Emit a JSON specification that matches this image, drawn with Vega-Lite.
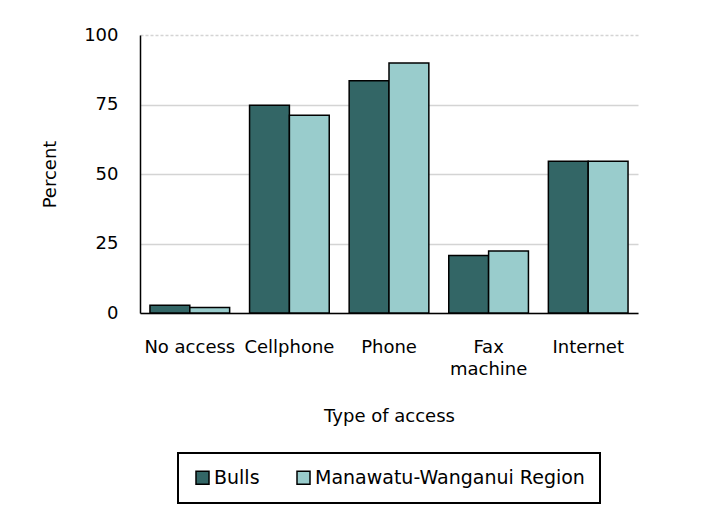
{
  "$schema": "https://vega.github.io/schema/vega-lite/v6.json",
  "autosize": {"type": "none"},
  "width": 498,
  "height": 278,
  "padding": {"left": 140, "top": 35, "right": 76, "bottom": 203},
  "background": "white",
  "data": {
    "values": [
      {"access": "No access", "area": "Bulls", "percent": 2.8},
      {"access": "No access", "area": "Manawatu-Wanganui Region", "percent": 2.0},
      {"access": "Cellphone", "area": "Bulls", "percent": 74.7},
      {"access": "Cellphone", "area": "Manawatu-Wanganui Region", "percent": 71.1},
      {"access": "Phone", "area": "Bulls", "percent": 83.5},
      {"access": "Phone", "area": "Manawatu-Wanganui Region", "percent": 89.9},
      {"access": "Fax machine", "area": "Bulls", "percent": 20.7},
      {"access": "Fax machine", "area": "Manawatu-Wanganui Region", "percent": 22.3},
      {"access": "Internet", "area": "Bulls", "percent": 54.6},
      {"access": "Internet", "area": "Manawatu-Wanganui Region", "percent": 54.6}
    ]
  },
  "mark": {"type": "bar", "stroke": "black", "strokeWidth": 1.5},
  "encoding": {
    "x": {
      "field": "access",
      "type": "nominal",
      "sort": ["No access", "Cellphone", "Phone", "Fax machine", "Internet"],
      "scale": {"paddingInner": 0.2, "paddingOuter": 0.1},
      "axis": {
        "title": "Type of access",
        "labelAngle": 0,
        "ticks": false,
        "tickSize": 0,
        "labelPadding": 25,
        "labelOverlap": false,
        "labelLimit": 200,
        "labelLineHeight": 22,
        "labelExpr": "datum.label == 'Fax machine' ? ['Fax', 'machine'] : datum.label",
        "domainColor": "black",
        "domainWidth": 1.5,
        "titleY": 94,
        "titleBaseline": "top"
      }
    },
    "xOffset": {
      "field": "area",
      "type": "nominal",
      "scale": {"paddingInner": 0, "paddingOuter": 0}
    },
    "y": {
      "field": "percent",
      "type": "quantitative",
      "scale": {"domain": [0, 100], "nice": false},
      "axis": {
        "title": "Percent",
        "values": [0, 25, 50, 75, 100],
        "ticks": false,
        "tickSize": 0,
        "labelPadding": 22,
        "domainColor": "black",
        "domainWidth": 1.5,
        "gridColor": "#d4d4d4",
        "gridWidth": 1.5,
        "gridDash": {"condition": {"test": "datum.value == 100", "value": [3, 2]}, "value": []},
        "titlePadding": 24
      }
    },
    "color": {
      "field": "area",
      "type": "nominal",
      "scale": {"domain": ["Bulls", "Manawatu-Wanganui Region"], "range": ["#336666", "#99CCCC"]},
      "legend": {
        "title": null,
        "orient": "none",
        "direction": "horizontal",
        "legendX": 38,
        "legendY": 418,
        "strokeColor": "black",
        "fillColor": "white",
        "padding": 15,
        "symbolType": "square",
        "symbolSize": 169,
        "symbolStrokeColor": "black",
        "symbolStrokeWidth": 1.5,
        "labelOffset": 2,
        "columnPadding": 34,
        "labelLimit": 400,
        "labelFontSize": 19,
        "encode": {"legend": {"update": {"strokeWidth": {"value": 2}}}}
      }
    }
  },
  "config": {
    "view": {"stroke": null},
    "font": "DejaVu Sans",
    "axis": {
      "labelFont": "DejaVu Sans",
      "titleFont": "DejaVu Sans",
      "labelFontSize": 18,
      "titleFontSize": 18,
      "labelColor": "black",
      "titleColor": "black",
      "titleFontWeight": "normal"
    },
    "legend": {"labelFont": "DejaVu Sans", "labelColor": "black"}
  }
}
